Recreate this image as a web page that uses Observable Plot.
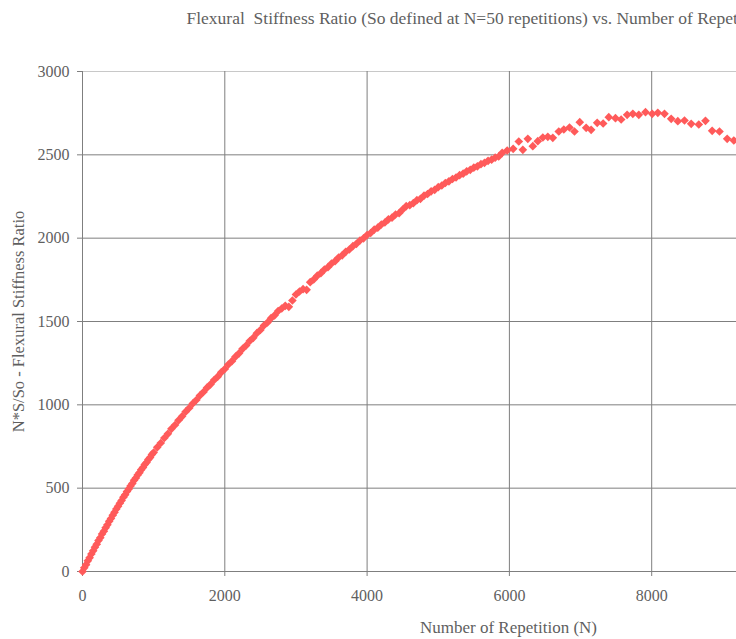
<!DOCTYPE html>
<html>
<head>
<meta charset="utf-8">
<script src="https://cdn.jsdelivr.net/npm/d3@7"></script>
<script src="https://cdn.jsdelivr.net/npm/@observablehq/plot@0.6"></script>
<style>
  html, body { margin: 0; padding: 0; background: #fff; overflow: hidden; }
  #chart svg { display: block; }
</style>
</head>
<body>
<div id="chart"></div>
<script>
const titleText = "Flexural  Stiffness Ratio (So defined at N=50 repetitions) vs. Number of Repetitions";
const xLabelText = "Number of Repetition (N)";
const yLabelText = "N*S/So - Flexural Stiffness Ratio";

const xTicks = [0, 2000, 4000, 6000, 8000];
const yTicks = [0, 500, 1000, 1500, 2000, 2500, 3000];

// Number of repetitions (N)
const repetitions = [
  0, 25, 50, 75, 100, 125, 150, 175, 200, 225, 250, 275, 300, 325, 350, 375, 400, 425, 450, 475,
  500, 525, 550, 575, 600, 625, 650, 675, 700, 725, 750, 775, 800, 825, 850, 875, 900, 925, 950, 975, 1000,
  1050, 1100, 1150, 1200, 1250, 1300, 1350, 1400, 1450, 1500, 1550, 1600, 1650, 1700, 1750, 1800, 1850, 1900, 1950,
  2000, 2050, 2100, 2150, 2200, 2250, 2300, 2350, 2400, 2450, 2500, 2550, 2600, 2650, 2700, 2750, 2800, 2850, 2900, 2950,
  3000, 3050, 3100, 3150, 3200, 3250, 3300, 3350, 3400, 3450, 3500, 3550, 3600, 3650, 3700, 3750, 3800, 3850, 3900, 3950,
  4000, 4050, 4100, 4150, 4200, 4250, 4300, 4350, 4400, 4450, 4500, 4550, 4600, 4650, 4700, 4750, 4800, 4850, 4900, 4950,
  5000, 5050, 5100, 5150, 5200, 5250, 5300, 5350, 5400, 5450, 5500, 5550, 5600, 5650, 5700, 5750, 5800, 5850,
  5899, 5969, 6053, 6132, 6189, 6259, 6329, 6399, 6470, 6540, 6610, 6694, 6765, 6845, 6915, 6989, 7079, 7149, 7234, 7318,
  7397, 7491, 7571, 7655, 7735, 7819, 7913, 8007, 8086, 8180, 8274, 8367, 8461, 8555, 8662, 8756, 8850, 8953, 9061, 9154
];

// Flexural stiffness ratio N*S/So
const stiffnessRatio = [
  0, 22, 41, 64, 83, 105, 124, 146, 164, 186, 203, 225, 242, 263, 280, 301, 318, 338, 355, 375,
  391, 410, 426, 446, 461, 480, 495, 513, 528, 547, 561, 579, 593, 611, 624, 642, 654, 672, 684, 702, 714,
  745, 771, 801, 826, 856, 879, 907, 931, 959, 981, 1008, 1029, 1056, 1077, 1103, 1123, 1149, 1169, 1195,
  1215, 1242, 1262, 1289, 1309, 1336, 1356, 1383, 1402, 1430, 1449, 1476, 1494, 1520, 1537, 1563, 1578, 1594, 1588, 1626,
  1662, 1680, 1694, 1690, 1736, 1752, 1775, 1790, 1812, 1826, 1848, 1862, 1884, 1897, 1918, 1932, 1952, 1966, 1986, 1999,
  2019, 2031, 2051, 2063, 2082, 2094, 2113, 2123, 2142, 2150, 2172, 2192, 2198, 2210, 2228, 2236, 2255, 2265, 2281, 2290,
  2306, 2316, 2331, 2341, 2355, 2364, 2378, 2387, 2401, 2410, 2423, 2431, 2444, 2452, 2464, 2471, 2483, 2490,
  2512, 2526, 2536, 2580, 2530, 2596, 2552, 2582, 2604, 2608, 2602, 2640, 2652, 2664, 2640, 2696, 2662, 2650, 2692, 2688,
  2726, 2720, 2712, 2740, 2746, 2740, 2756, 2746, 2752, 2746, 2716, 2702, 2706, 2686, 2682, 2704, 2644, 2640, 2596, 2586
];

const points = repetitions.map((n, i) => ({n, r: stiffnessRatio[i]}));

const textColor = "#5f5f5f";
const gridColor = "#7f7f7f";
const fontFamily = "'Liberation Serif', 'DejaVu Serif', serif";

const chart = Plot.plot({
  width: 736,
  height: 639,
  marginTop: 71,
  marginLeft: 82,
  marginRight: 0,
  marginBottom: 68,
  style: {fontFamily, fontSize: "16px", color: textColor, background: "#fff", overflow: "hidden"},
  x: {domain: [0, 9192]},
  y: {domain: [0, 3000]},
  marks: [
    Plot.ruleY(yTicks.filter(d => d > 0 && d < 3000), {stroke: gridColor, strokeWidth: 1}),
    Plot.ruleY([3000], {stroke: "#c8c8c8", strokeWidth: 1}),
    Plot.ruleX(xTicks.filter(d => d > 0), {stroke: gridColor, strokeWidth: 1}),
    Plot.ruleX([0], {stroke: gridColor, strokeWidth: 1}),
    Plot.ruleY([0], {stroke: gridColor, strokeWidth: 1}),
    Plot.axisY({ticks: yTicks, tickSize: 5, tickPadding: 8, stroke: gridColor, fill: textColor, label: null, tickFormat: d => String(d)}),
    Plot.axisX({ticks: xTicks, tickSize: 5, tickPadding: 13, stroke: gridColor, fill: textColor, label: null, tickFormat: d => String(d)}),
    Plot.dot(points, {x: "n", y: "r", symbol: "diamond2", r: 3.9, fill: "#ff5a5a", stroke: "none"}),
    Plot.text([titleText], {frameAnchor: "top-left", textAnchor: "start", dx: 104, dy: -60, fill: textColor, fontSize: 17.5}),
    Plot.text([xLabelText], {frameAnchor: "bottom-left", textAnchor: "middle", dx: 426, dy: 61, fill: textColor, fontSize: 17}),
    Plot.text([yLabelText], {frameAnchor: "left", textAnchor: "middle", rotate: -90, dx: -64, fill: textColor, fontSize: 16.5})
  ]
});

document.getElementById("chart").appendChild(chart);
</script>
</body>
</html>
